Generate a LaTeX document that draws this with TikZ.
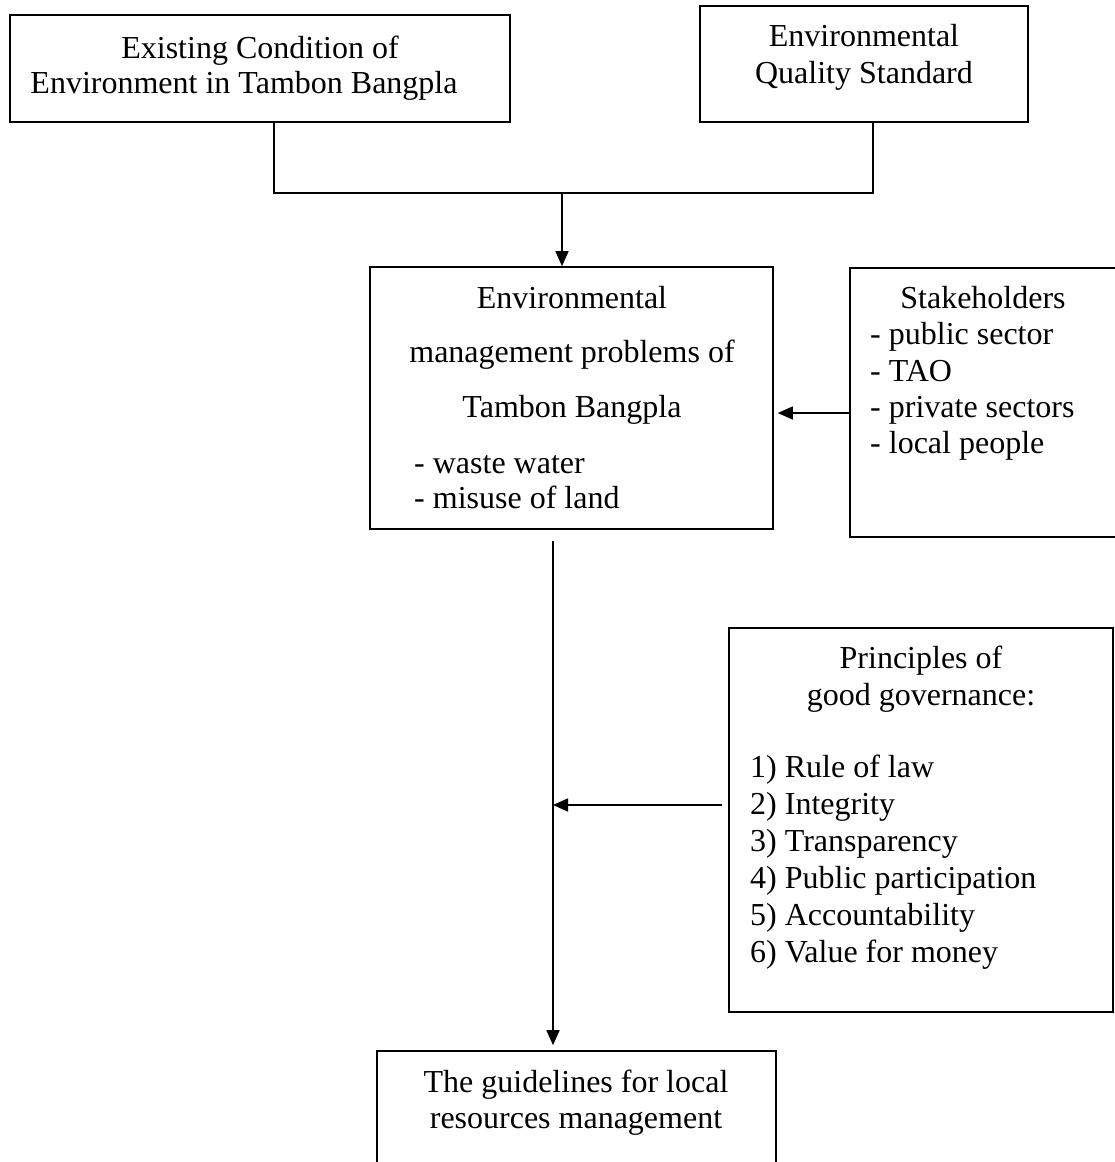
\documentclass[tikz,border=0pt]{standalone}
\usepackage{fontspec}
\setmainfont{Liberation Serif}
\usetikzlibrary{arrows.meta}
\begin{document}
\begin{tikzpicture}[x=1pt,y=-1pt,
  boxnode/.style={draw=black,line width=1.6pt,rectangle,inner sep=0pt,minimum width=#1},
  txt/.style={inner sep=0pt,anchor=base,font=\fontsize{32}{37}\selectfont},
  txtl/.style={inner sep=0pt,anchor=base west,font=\fontsize{32}{37}\selectfont},
  conn/.style={line width=1.5pt},
  arr/.style={line width=1.5pt,-{Triangle[length=15pt,width=13pt]}}]
\clip (0,0) rectangle (1115,1162);
\fill[white] (0,0) rectangle (1115,1162);
% boxes
\node[boxnode=500pt,minimum height=107pt] (box1) at (260,68.5) {};
\node[boxnode=328pt,minimum height=116pt] (box2) at (864,64) {};
\node[boxnode=403pt,minimum height=262pt] (box3) at (571.5,398) {};
\node[boxnode=275pt,minimum height=269pt] (box4) at (987.5,402.5) {};
\node[boxnode=384pt,minimum height=384pt] (box5) at (921,820) {};
\node[boxnode=399pt,minimum height=140pt] (box6) at (576.5,1121) {};
% texts
\node[txt] (t1a) at (260,58) {Existing Condition of};
\node[txt] (t1b) at (244,93) {Environment in Tambon Bangpla};
\node[txt] (t2a) at (864,46) {Environmental};
\node[txt] (t2b) at (864,83) {Quality Standard};
\node[txt] (t3a) at (572,308) {Environmental};
\node[txt] (t3b) at (572,362) {management problems of};
\node[txt] (t3c) at (572,417) {Tambon Bangpla};
\node[txtl] (t3d) at (414,473) {- waste water};
\node[txtl] (t3e) at (414,508) {- misuse of land};
\node[txt] (t4a) at (983,308) {Stakeholders};
\node[txtl] (t4b) at (870,344) {- public sector};
\node[txtl] (t4c) at (870,381) {- TAO};
\node[txtl] (t4d) at (870,417) {- private sectors};
\node[txtl] (t4e) at (870,453) {- local people};
\node[txt] (t5a) at (921,668) {Principles of};
\node[txt] (t5b) at (921,705) {good governance:};
\node[txtl] (t5c) at (750,777) {1) Rule of law};
\node[txtl] (t5d) at (750,814) {2) Integrity};
\node[txtl] (t5e) at (750,851) {3) Transparency};
\node[txtl] (t5f) at (750,888) {4) Public participation};
\node[txtl] (t5g) at (750,925) {5) Accountability};
\node[txtl] (t5h) at (750,962) {6) Value for money};
\node[txt] (t6a) at (576,1092) {The guidelines for local};
\node[txt] (t6b) at (576,1128) {resources management};
% connectors
\coordinate (j1) at (274,193);
\coordinate (j2) at (873,193);
\coordinate (jm) at (562,193);
\coordinate (sa) at (850,413);
\coordinate (vs) at (553,541);
\coordinate (pa) at (722,805);
\draw[conn] (box1.south -| j1) -- (j1) -- (j2) -- (box2.south -| j2);
\draw[arr] (jm) -- (box3.north -| jm);
\draw[arr,shorten >=4pt] (sa) -- (sa -| box3.east);
\draw[arr,shorten >=5pt] (vs) -- (vs |- box6.north);
\draw[arr] (pa) -- (pa -| vs);
\end{tikzpicture}
\end{document}
